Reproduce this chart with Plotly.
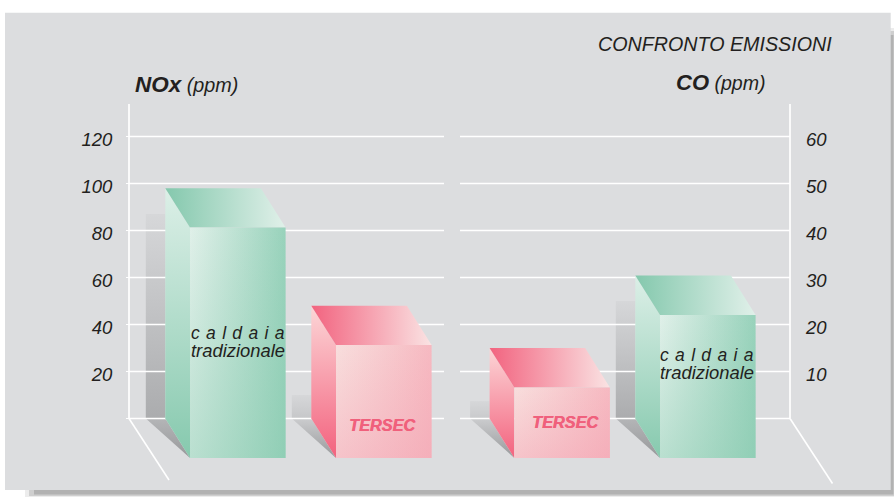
import plotly.graph_objects as go

# ---- data ----
categories = ["caldaia tradizionale", "TERSEC", "TERSEC", "caldaia tradizionale"]
nox_values = [98, 48]          # ppm, left axis
co_values = [15, 30.4]         # ppm, right axis
nox_shadow = [87, 10]          # height of the cast shadow, left axis units
co_shadow = [3.7, 25]          # height of the cast shadow, right axis units
nox_ticks = [0, 20, 40, 60, 80, 100, 120]
nox_labels = ["", "20", "40", "60", "80", "100", "120"]
co_ticks = [0, 10, 20, 30, 40, 50, 60]
co_labels = ["", "10", "20", "30", "40", "50", "60"]

# ---- layout geometry (pixels) ----
W, H = 894, 497
AX_L, AX_R, AX_T, AX_B = 129, 790, 104, 418.5
NOX_PX = 2.35   # pixels per ppm
CO_PX = 4.70
FRONT_L = [190, 336, 514.3, 660]
BAR_W = 95.6
DX, DY = 24.7, 39.4
SHADOW_W = 19.5
INK = "#231f20"
PANEL = "#dcdddf"
TERSEC_RED = "#f0607c"

GREEN = dict(top=("#84c8ad", "#e0f0e9"), side=("#dcefe7", "#86c9ae"),
             front=("#e0f0e9", "#98d2bb"), veil="134,201,174")
PINK = dict(top=("#f2637f", "#fae3e3"), side=("#fcd6d7", "#f3627e"),
            front=("#f8dedd", "#f6b9c1"), veil="243,160,176")


def grad(kind, c0, c1):
    return dict(type=kind, colorscale=[[0, c0], [1, c1]])


fig = go.Figure()


def face(xs, ys, yaxis, gradient):
    fig.add_trace(go.Scatter(x=xs + xs[:1], y=ys + ys[:1], mode="lines", yaxis=yaxis,
                             line=dict(width=0), fill="toself", fillgradient=gradient,
                             hoverinfo="skip", showlegend=False))


def line(xs, ys, yaxis, width):
    fig.add_trace(go.Scatter(x=xs, y=ys, mode="lines", yaxis=yaxis,
                             line=dict(color="white", width=width), hoverinfo="skip",
                             showlegend=False))


def shadow(left, val, yaxis, scale, foot, floor_top):
    b = left - DX - SHADOW_W
    r = left - DX
    face([b, r, r, b], [0, 0, val, val], yaxis, grad("vertical", foot, "#d6d7d9"))
    d = DY / scale
    face([b, r, left], [0, 0, -d], yaxis, grad("vertical", "#98999b", floor_top))


def grid(x0, x1, ticks, yaxis):
    xs, ys = [], []
    for t in ticks:
        xs += [x0, x1, None]
        ys += [t, t, None]
    line(xs, ys, yaxis, 1.4)


def bar(left, val, yaxis, scale, pal):
    right = left + BAR_W
    d = DY / scale
    dx = DX
    face([left - dx, left, left, left - dx], [0, -d, val - d, val], yaxis,
         grad("vertical", pal["side"][1], pal["side"][0]))
    face([left - dx, right - dx, right, left], [val, val, val - d, val - d], yaxis,
         grad("horizontal", *pal["top"]))
    fx = [left, right, right, left]
    fy = [-d, -d, val - d, val - d]
    face(fx, fy, yaxis, grad("horizontal", *pal["front"]))
    face(fx, fy, yaxis, grad("vertical", f"rgba({pal['veil']},0.42)", f"rgba({pal['veil']},0)"))


shadow(FRONT_L[0], nox_shadow[0], "y", NOX_PX, "#abacae", "#b4b5b7")
shadow(FRONT_L[1], nox_shadow[1], "y", NOX_PX, "#c6c7c9", "#cbccce")
shadow(FRONT_L[2], co_shadow[0], "y2", CO_PX, "#c9cacc", "#cbccce")
shadow(FRONT_L[3], co_shadow[1], "y2", CO_PX, "#abacae", "#b4b5b7")

grid(AX_L, 444, nox_ticks, "y")
grid(460, AX_R, co_ticks, "y2")

# axis uprights and floor lines
line([AX_L, AX_L], [0, (AX_B - AX_T) / NOX_PX], "y", 1.7)
line([AX_R, AX_R], [0, (AX_B - AX_T) / CO_PX], "y2", 1.7)
line([AX_L, AX_L + 40], [0, -61.5 / NOX_PX], "y", 1.6)
line([AX_R, AX_R + 42.5], [0, -65 / CO_PX], "y2", 1.6)

bar(FRONT_L[0], nox_values[0], "y", NOX_PX, GREEN)
bar(FRONT_L[1], nox_values[1], "y", NOX_PX, PINK)
bar(FRONT_L[2], co_values[0], "y2", CO_PX, PINK)
bar(FRONT_L[3], co_values[1], "y2", CO_PX, GREEN)


def px(x):
    return x / W


def py(y):
    return 1 - y / H


def rect(x0, x1, y0, y1, color):
    return dict(type="rect", xref="paper", yref="paper", x0=px(x0), x1=px(x1), y0=py(y1), y1=py(y0),
                fillcolor=color, line_width=0, layer="below")


shapes = [
    rect(25, 894, 28, 497, "#ececec"),
    rect(29, 894, 31, 496, "#cfcfcf"),
    rect(34, 893.5, 35, 494.5, "#b2b2b2"),
    rect(5, 890.7, 12.7, 490, PANEL),
]


def note(x, y, text, size, anchor="left", color=INK, **font):
    return dict(xref="paper", yref="paper", x=px(x), y=py(y), text=text, showarrow=False,
                xanchor=anchor, yanchor="middle", borderpad=0,
                font=dict(family="Liberation Sans", size=size, color=color, style="italic", **font))


SPACED = "c \u200aa \u200al \u200ad \u200aa \u200ai \u200aa"
HEAVY = f"0.5px 0 0 {TERSEC_RED}"
annotations = [
    note(832.5, 44, "CONFRONTO EMISSIONI", 19.7, "right"),
    note(134, 84, '<span style="font-size:22.5px"><b>NOx</b></span> (ppm)', 19.8),
    note(675, 83, '<span style="font-size:22px"><b>CO</b></span> (ppm)', 19.6),
    note(190, 332.5, SPACED, 17.5),
    note(190, 350.5, "tradizionale", 18.4),
    note(659, 354.5, SPACED, 17.5),
    note(659, 372.5, "tradizionale", 18.4),
    note(382.2, 425, "<b>TERSEC</b>", 16.3, "center", TERSEC_RED, shadow=HEAVY),
    note(565.2, 422, "<b>TERSEC</b>", 16.3, "center", TERSEC_RED, shadow=HEAVY),
]

tick_font = dict(family="Liberation Sans", color=INK, style="italic", size=18.5)
fig.update_layout(
    width=W, height=H, autosize=False,
    margin=dict(l=0, r=0, t=0, b=0, pad=0, autoexpand=False),
    paper_bgcolor="white", plot_bgcolor="rgba(0,0,0,0)", showlegend=False,
    shapes=shapes, annotations=annotations, hovermode=False,
    xaxis=dict(visible=False, range=[0, W], fixedrange=True),
    yaxis=dict(range=[(AX_B - H) / NOX_PX, AX_B / NOX_PX], tickmode="array", tickvals=nox_ticks,
               ticktext=nox_labels, tickfont=tick_font, showgrid=False, zeroline=False,
               showline=False, ticks="outside", ticklen=3, anchor="free", position=px(AX_L),
               tickcolor="white", tickwidth=1.4, ticklabelstandoff=10, ticklabelshift=3,
               fixedrange=True),
    yaxis2=dict(range=[(AX_B - H) / CO_PX, AX_B / CO_PX], overlaying="y", side="right",
                tickmode="array", tickvals=co_ticks, ticktext=co_labels, tickfont=tick_font,
                showgrid=False, zeroline=False, showline=False, ticks="", anchor="free",
                position=px(AX_R), ticklabelstandoff=15, ticklabelshift=3, fixedrange=True),
)

fig.write_html("out.html", config=dict(displayModeBar=False),
               post_script="document.body.style.margin='0';")
